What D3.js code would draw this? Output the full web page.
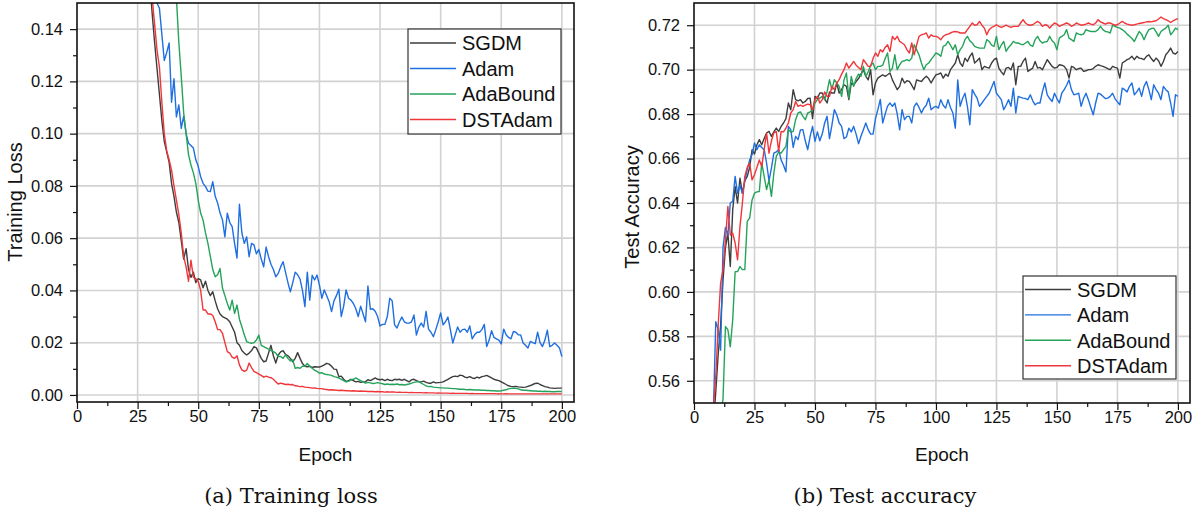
<!DOCTYPE html>
<html>
<head>
<meta charset="utf-8">
<script src="https://cdn.jsdelivr.net/npm/d3@7"></script>
<style>
  body { margin: 0; background: #fff; }
  svg { display: block; }
</style>
</head>
<body>
<div id="chart"></div>
<script>
// legend names and line colours
var seriesNames = ['SGDM', 'Adam', 'AdaBound', 'DSTAdam'];
var seriesColors = ['#3d3d3d', '#1f6fe0', '#25a35a', '#f0363a'];

// tick values
var epochTicks = [0, 25, 50, 75, 100, 125, 150, 175, 200];
var epochMinorTicks = [12.5, 37.5, 62.5, 87.5, 112.5, 137.5, 162.5, 187.5];
var lossTicks = [0, 0.02, 0.04, 0.06, 0.08, 0.10, 0.12, 0.14];
var lossMinorTicks = [0.01, 0.03, 0.05, 0.07, 0.09, 0.11, 0.13];
var accTicks = [0.56, 0.58, 0.60, 0.62, 0.64, 0.66, 0.68, 0.70, 0.72];
var accMinorTicks = [0.57, 0.59, 0.61, 0.63, 0.65, 0.67, 0.69, 0.71];

// training loss, epochs 1..200
var sgdmLoss = [
  1.55,1.18,1.02,0.92,0.85,0.79,0.74,0.70,0.66,0.62,
  0.59,0.56,0.53,0.50,0.47,0.44,0.41,0.38,0.35,0.33,
  0.30,0.28,0.26,0.24,0.22,0.21,0.195,0.18,0.17,0.158,
  0.146,0.135,0.125,0.115,0.105,0.097,0.093,0.089,0.081,0.076,
  0.070,0.066,0.059,0.052,0.056,0.048,0.045,0.047,0.043,0.0445,
  0.044,0.041,0.0435,0.040,0.038,0.0395,0.036,0.033,0.031,0.030,
  0.0295,0.029,0.028,0.026,0.024,0.020,0.019,0.017,0.016,0.0153,
  0.016,0.017,0.0185,0.018,0.016,0.014,0.0127,0.013,0.016,0.019,
  0.015,0.0122,0.0153,0.0165,0.017,0.0155,0.015,0.014,0.0127,0.014,
  0.0162,0.014,0.012,0.011,0.0108,0.011,0.0105,0.0108,0.0107,0.0107,
  0.011,0.0115,0.0121,0.0118,0.011,0.0099,0.0098,0.007,0.0072,0.006,
  0.0051,0.0055,0.006,0.0055,0.005,0.0052,0.0048,0.005,0.0051,0.0058,
  0.0055,0.006,0.0065,0.006,0.0058,0.006,0.0055,0.006,0.0056,0.0055,
  0.006,0.0058,0.006,0.0056,0.006,0.0055,0.005,0.0058,0.006,0.0055,
  0.0051,0.005,0.0053,0.0048,0.0045,0.0045,0.005,0.0046,0.0047,0.0048,
  0.005,0.0055,0.006,0.0065,0.007,0.0072,0.007,0.0076,0.0074,0.0068,
  0.0066,0.007,0.0065,0.0063,0.0068,0.0065,0.007,0.0072,0.0075,0.007,
  0.0065,0.006,0.0057,0.0055,0.005,0.0045,0.004,0.0035,0.0033,0.0032,
  0.0033,0.0031,0.003,0.0029,0.003,0.0033,0.0036,0.004,0.0044,0.0045,
  0.004,0.0036,0.0032,0.003,0.0027,0.0026,0.0025,0.0026,0.0026,0.0026
];
var adamLoss = [
  2.1,1.5,1.25,1.1,1.0,0.92,0.86,0.80,0.75,0.70,
  0.66,0.62,0.58,0.55,0.52,0.49,0.46,0.43,0.41,0.38,
  0.36,0.34,0.32,0.30,0.28,0.26,0.24,0.22,0.205,0.19,
  0.175,0.162,0.150,0.148,0.138,0.128,0.131,0.1347,0.112,0.121,
  0.1064,0.111,0.102,0.1067,0.100,0.0963,0.0955,0.0945,0.090,0.0875,
  0.0835,0.081,0.0797,0.078,0.0778,0.0816,0.076,0.0735,0.0696,0.067,
  0.0605,0.0696,0.066,0.0644,0.058,0.0524,0.073,0.062,0.058,0.0605,
  0.0529,0.058,0.0574,0.054,0.0557,0.052,0.049,0.0566,0.053,0.050,
  0.048,0.0452,0.0465,0.049,0.051,0.047,0.043,0.0395,0.043,0.047,
  0.046,0.0443,0.040,0.0338,0.047,0.0363,0.0458,0.044,0.0459,0.042,
  0.037,0.0402,0.038,0.0357,0.0319,0.036,0.038,0.0405,0.030,0.034,
  0.0402,0.037,0.0363,0.035,0.033,0.030,0.034,0.031,0.028,0.0417,
  0.0328,0.033,0.032,0.030,0.0264,0.027,0.027,0.030,0.037,0.036,
  0.0268,0.0256,0.028,0.0298,0.028,0.0275,0.0275,0.028,0.0306,0.0229,
  0.026,0.0275,0.026,0.032,0.0252,0.024,0.0223,0.025,0.028,0.0314,
  0.0268,0.028,0.0298,0.025,0.0199,0.023,0.026,0.024,0.025,0.0252,
  0.024,0.0264,0.0215,0.023,0.024,0.024,0.025,0.027,0.0185,0.021,
  0.0246,0.022,0.0215,0.021,0.0195,0.0252,0.023,0.022,0.0215,0.0243,
  0.024,0.023,0.023,0.0199,0.019,0.018,0.0205,0.020,0.0196,0.024,
  0.020,0.0185,0.021,0.0248,0.0185,0.019,0.0199,0.019,0.018,0.0147
];
var adaboundLoss = [
  1.9,1.45,1.25,1.12,1.03,0.96,0.90,0.85,0.80,0.76,
  0.72,0.69,0.66,0.63,0.60,0.57,0.55,0.52,0.50,0.48,
  0.46,0.44,0.42,0.40,0.38,0.36,0.345,0.33,0.315,0.30,
  0.285,0.27,0.26,0.245,0.235,0.22,0.21,0.195,0.18,0.165,
  0.152,0.135,0.122,0.108,0.100,0.092,0.088,0.085,0.081,0.0746,
  0.0696,0.0669,0.062,0.058,0.053,0.048,0.0452,0.046,0.0484,0.0409,
  0.038,0.035,0.0325,0.0363,0.0312,0.0344,0.029,0.0261,0.023,0.0204,
  0.020,0.0198,0.020,0.021,0.0229,0.019,0.0185,0.018,0.0175,0.017,
  0.0166,0.016,0.0147,0.0147,0.014,0.0153,0.014,0.013,0.0134,0.0102,
  0.0105,0.0102,0.011,0.011,0.012,0.011,0.0102,0.0095,0.009,0.0083,
  0.0085,0.008,0.0078,0.0077,0.0075,0.007,0.0068,0.0065,0.006,0.0055,
  0.005,0.0052,0.0058,0.006,0.0065,0.006,0.0055,0.005,0.0045,0.0048,
  0.0046,0.0044,0.0045,0.0047,0.0045,0.0043,0.004,0.0042,0.004,0.0041,
  0.0040,0.0042,0.0039,0.004,0.0038,0.004,0.0042,0.0045,0.0048,0.005,
  0.0051,0.0045,0.004,0.0035,0.0032,0.0033,0.003,0.0029,0.0028,0.0027,
  0.0027,0.0026,0.0026,0.0025,0.0024,0.0024,0.0023,0.0022,0.0022,0.0021,
  0.002,0.0021,0.002,0.0019,0.0019,0.0019,0.0018,0.0018,0.0017,0.0017,
  0.0016,0.0016,0.0015,0.0015,0.0016,0.0018,0.002,0.0023,0.0025,0.0026,
  0.0025,0.0023,0.002,0.0018,0.0018,0.0017,0.0016,0.0015,0.0015,0.0014,
  0.0014,0.0013,0.0014,0.0013,0.0013,0.0012,0.0012,0.0013,0.0013,0.0013
];
var dstadamLoss = [
  1.6,1.2,1.03,0.93,0.86,0.80,0.75,0.70,0.66,0.62,
  0.59,0.56,0.53,0.50,0.47,0.44,0.41,0.38,0.36,0.33,
  0.31,0.29,0.27,0.25,0.23,0.215,0.2,0.185,0.172,0.162,
  0.152,0.142,0.132,0.1255,0.112,0.100,0.0935,0.090,0.086,0.080,
  0.0746,0.069,0.062,0.053,0.049,0.0435,0.0516,0.045,0.0445,0.0435,
  0.040,0.0325,0.0325,0.031,0.031,0.0304,0.028,0.025,0.025,0.0236,
  0.020,0.0166,0.016,0.0145,0.014,0.015,0.0115,0.0096,0.009,0.0095,
  0.0122,0.0105,0.009,0.0085,0.008,0.0075,0.0068,0.0072,0.0068,0.0066,
  0.006,0.005,0.0042,0.0045,0.0043,0.004,0.0041,0.0039,0.004,0.0035,
  0.0034,0.0032,0.0033,0.003,0.0029,0.0028,0.0026,0.0027,0.0025,0.0024,
  0.0024,0.0022,0.0021,0.0019,0.002,0.0019,0.0018,0.0017,0.0018,0.0017,
  0.0016,0.0016,0.0015,0.0016,0.0015,0.0014,0.0015,0.0014,0.0014,0.0013,
  0.0013,0.0013,0.0012,0.0013,0.0012,0.0012,0.0011,0.0012,0.0011,0.0011,
  0.0011,0.001,0.0011,0.001,0.001,0.001,0.0009,0.001,0.0009,0.0009,
  0.0009,0.0009,0.0008,0.0009,0.0008,0.0008,0.0008,0.0007,0.0008,0.0007,
  0.0007,0.0007,0.0007,0.0006,0.0007,0.0006,0.0006,0.0006,0.0006,0.0006,
  0.0006,0.0005,0.0006,0.0005,0.0005,0.0005,0.0005,0.0005,0.0005,0.0005,
  0.0005,0.0005,0.0004,0.0005,0.0004,0.0004,0.0005,0.0004,0.0004,0.0004,
  0.0004,0.0004,0.0004,0.0004,0.0004,0.0004,0.0004,0.0004,0.0004,0.0004,
  0.0004,0.0004,0.0004,0.0004,0.0004,0.0004,0.0004,0.0004,0.0004,0.0004
];

// test accuracy, epochs 1..200
var sgdmAcc = [
  0.30,0.38,0.43,0.46,0.49,0.51,0.525,0.54,0.555,0.572,
  0.585,0.6054,0.620,0.6264,0.6114,0.637,0.6474,0.640,0.6512,0.6444,
  0.650,0.652,0.656,0.664,0.662,0.6662,0.6685,0.6662,0.669,0.6715,
  0.6722,0.670,0.672,0.6737,0.6722,0.6745,0.676,0.678,0.685,0.682,
  0.691,0.6865,0.686,0.6865,0.685,0.6857,0.687,0.6872,0.678,0.688,
  0.687,0.6895,0.6895,0.687,0.685,0.690,0.6895,0.6895,0.694,0.6895,
  0.691,0.6932,0.6925,0.6865,0.694,0.693,0.6947,0.696,0.698,0.700,
  0.697,0.6954,0.700,0.6887,0.694,0.6962,0.697,0.6977,0.697,0.6977,
  0.6985,0.6954,0.6932,0.691,0.6925,0.6962,0.694,0.695,0.6947,0.693,
  0.691,0.6954,0.695,0.6947,0.696,0.697,0.696,0.694,0.696,0.6977,
  0.698,0.6985,0.6962,0.698,0.697,0.700,0.7015,0.703,0.7067,0.703,
  0.7015,0.7052,0.7037,0.706,0.7075,0.703,0.704,0.7052,0.700,0.7015,
  0.701,0.7007,0.703,0.7045,0.7052,0.7007,0.699,0.6977,0.7007,0.701,
  0.700,0.703,0.6932,0.7015,0.7015,0.7037,0.7052,0.6992,0.700,0.7007,
  0.7037,0.7007,0.701,0.700,0.7022,0.7045,0.703,0.7015,0.7007,0.701,
  0.7022,0.702,0.7015,0.700,0.6962,0.7015,0.701,0.700,0.7005,0.7007,
  0.6992,0.6995,0.700,0.700,0.7005,0.7015,0.7022,0.7018,0.7015,0.701,
  0.7005,0.700,0.7015,0.701,0.7007,0.6962,0.703,0.7037,0.7045,0.705,
  0.706,0.7045,0.706,0.7052,0.705,0.7045,0.706,0.7067,0.705,0.7037,
  0.7052,0.704,0.7015,0.7037,0.7067,0.708,0.7097,0.7075,0.707,0.7082
];
var adamAcc = [
  0.28,0.36,0.42,0.46,0.49,0.51,0.53,0.545,0.5866,0.583,
  0.5738,0.620,0.629,0.6256,0.640,0.6407,0.652,0.6444,0.648,0.6444,
  0.650,0.655,0.6594,0.6617,0.667,0.664,0.6662,0.665,0.664,0.658,
  0.650,0.6557,0.6624,0.663,0.664,0.6594,0.657,0.654,0.6745,0.673,
  0.665,0.670,0.6685,0.6729,0.673,0.668,0.664,0.670,0.6745,0.6677,
  0.672,0.668,0.671,0.676,0.679,0.669,0.675,0.682,0.6797,0.676,
  0.6745,0.669,0.6697,0.6737,0.672,0.6745,0.671,0.6667,0.670,0.673,
  0.676,0.673,0.671,0.671,0.678,0.682,0.6866,0.676,0.680,0.6836,
  0.685,0.6835,0.685,0.680,0.6729,0.682,0.6775,0.679,0.679,0.676,
  0.6835,0.685,0.683,0.6805,0.6827,0.684,0.6872,0.682,0.683,0.6835,
  0.6827,0.6865,0.684,0.6827,0.6865,0.683,0.6805,0.6737,0.6954,0.6835,
  0.687,0.6894,0.6835,0.6752,0.691,0.689,0.6872,0.6835,0.685,0.6865,
  0.688,0.6894,0.692,0.6947,0.6894,0.688,0.6865,0.682,0.684,0.6865,
  0.6835,0.6917,0.6805,0.688,0.6875,0.6872,0.687,0.6865,0.6887,0.686,
  0.6842,0.685,0.685,0.690,0.694,0.6887,0.687,0.6857,0.6894,0.687,
  0.685,0.6894,0.691,0.693,0.6954,0.691,0.6887,0.689,0.6894,0.6835,
  0.687,0.6894,0.6865,0.683,0.6797,0.685,0.6894,0.689,0.688,0.687,
  0.6872,0.688,0.6894,0.687,0.6855,0.6842,0.6917,0.691,0.690,0.6925,
  0.694,0.6887,0.690,0.6917,0.688,0.6925,0.6947,0.691,0.6865,0.6932,
  0.691,0.6894,0.6865,0.6925,0.691,0.690,0.685,0.679,0.6887,0.688
];
var adaboundAcc = [
  0.25,0.33,0.39,0.43,0.46,0.48,0.50,0.515,0.525,0.535,
  0.543,0.552,0.5844,0.583,0.5753,0.5874,0.6091,0.6091,0.6114,0.610,
  0.610,0.6317,0.6332,0.6414,0.6444,0.645,0.6452,0.658,0.652,0.646,
  0.6504,0.643,0.6534,0.661,0.663,0.6624,0.664,0.6655,0.673,0.672,
  0.6722,0.6775,0.6805,0.681,0.679,0.6775,0.6805,0.681,0.682,0.685,
  0.6865,0.6872,0.688,0.6865,0.690,0.6955,0.691,0.6955,0.694,0.6925,
  0.688,0.6954,0.6985,0.6872,0.697,0.6925,0.696,0.698,0.697,0.7015,
  0.697,0.699,0.702,0.703,0.700,0.7015,0.7015,0.702,0.705,0.7075,
  0.6992,0.7007,0.7067,0.700,0.7022,0.7037,0.704,0.7045,0.704,0.7052,
  0.7112,0.709,0.7067,0.703,0.700,0.7022,0.703,0.7045,0.706,0.7075,
  0.707,0.706,0.7105,0.711,0.7127,0.711,0.709,0.7112,0.7067,0.709,
  0.7105,0.7135,0.715,0.713,0.712,0.7105,0.710,0.7097,0.7097,0.7097,
  0.7135,0.7127,0.711,0.7105,0.715,0.709,0.711,0.7127,0.7082,0.710,
  0.7112,0.7127,0.712,0.712,0.7115,0.7112,0.712,0.7127,0.711,0.7105,
  0.7135,0.715,0.713,0.712,0.7125,0.7127,0.715,0.713,0.712,0.709,
  0.7142,0.715,0.7157,0.718,0.7142,0.7135,0.7127,0.7165,0.716,0.7157,
  0.716,0.718,0.7175,0.7172,0.7172,0.7172,0.718,0.7195,0.718,0.7172,
  0.717,0.7165,0.720,0.7195,0.719,0.7187,0.718,0.7172,0.716,0.715,
  0.714,0.7127,0.715,0.7172,0.716,0.7135,0.716,0.718,0.7185,0.7187,
  0.717,0.715,0.7172,0.718,0.7187,0.720,0.7157,0.717,0.7187,0.718
];
var dstadamAcc = [
  0.29,0.37,0.42,0.46,0.49,0.51,0.53,0.548,0.562,0.585,
  0.604,0.610,0.6234,0.6385,0.6256,0.6264,0.622,0.6144,0.6294,0.640,
  0.652,0.656,0.658,0.6504,0.6527,0.656,0.6594,0.6564,0.664,0.6715,
  0.6624,0.668,0.6715,0.6722,0.6632,0.6722,0.672,0.6737,0.676,0.6805,
  0.682,0.6857,0.6835,0.684,0.6835,0.684,0.6845,0.6842,0.682,0.6865,
  0.688,0.685,0.6865,0.690,0.688,0.688,0.6925,0.691,0.694,0.6955,
  0.698,0.700,0.703,0.7007,0.7022,0.7037,0.702,0.701,0.700,0.7045,
  0.703,0.7015,0.7015,0.705,0.7075,0.706,0.709,0.708,0.710,0.7112,
  0.7082,0.715,0.7135,0.715,0.7127,0.712,0.7112,0.709,0.7075,0.712,
  0.7067,0.711,0.715,0.7157,0.716,0.7165,0.7142,0.7157,0.715,0.715,
  0.7145,0.7135,0.715,0.7157,0.716,0.7165,0.717,0.7172,0.717,0.7165,
  0.7165,0.7165,0.718,0.7195,0.721,0.720,0.7202,0.7217,0.720,0.7187,
  0.7157,0.718,0.719,0.7195,0.7202,0.7195,0.719,0.7195,0.720,0.7195,
  0.719,0.7195,0.7195,0.7195,0.721,0.7225,0.721,0.7202,0.720,0.7202,
  0.721,0.7217,0.721,0.7195,0.7202,0.720,0.7187,0.720,0.721,0.7205,
  0.7195,0.720,0.7205,0.721,0.7205,0.7195,0.720,0.721,0.7205,0.720,
  0.7202,0.7205,0.721,0.7205,0.7202,0.721,0.7225,0.7215,0.721,0.7205,
  0.721,0.721,0.7205,0.720,0.7202,0.721,0.7217,0.721,0.7205,0.7202,
  0.720,0.7202,0.7205,0.7208,0.721,0.7212,0.7215,0.7217,0.7215,0.7218,
  0.722,0.7228,0.7237,0.723,0.7225,0.722,0.7212,0.722,0.7225,0.723
];

// -----------------------------------------------

var svgWidth = 1203;
var svgHeight = 515;
var sansFont = '"Liberation Sans", Arial, Helvetica, sans-serif';
var serifFont = '"DejaVu Serif", "Liberation Serif", serif';

var svg = d3.select('#chart')
    .append('svg')
    .attr('width', svgWidth)
    .attr('height', svgHeight);

var defs = svg.append('defs');

// draws one panel: grid, curves, frame, axes, labels, legend
function drawPanel(p) {
    var top = 3;
    var x = d3.scaleLinear().domain([0, 205]).range([p.left, p.right]);
    var y = d3.scaleLinear().domain(p.yDomain).range([p.bottom, top]);
    var g = svg.append('g');

    // grid lines
    g.append('g')
        .selectAll('line')
        .data(epochTicks.slice(1))
        .enter()
        .append('line')
        .attr('x1', d => x(d)).attr('x2', d => x(d))
        .attr('y1', top).attr('y2', p.bottom)
        .attr('stroke', '#d2d2d2')
        .attr('stroke-width', 1.6);
    g.append('g')
        .selectAll('line')
        .data(p.yTicks)
        .enter()
        .append('line')
        .attr('x1', p.left).attr('x2', p.right)
        .attr('y1', d => y(d)).attr('y2', d => y(d))
        .attr('stroke', '#d2d2d2')
        .attr('stroke-width', 1.6);

    // clip curves to plot area
    defs.append('clipPath')
        .attr('id', p.id + '-clip')
        .append('rect')
        .attr('x', p.left).attr('y', top)
        .attr('width', p.right - p.left).attr('height', p.bottom - top);

    var line = d3.line()
        .x((d, i) => x(i + 1))
        .y(d => y(d));

    g.append('g')
        .attr('clip-path', `url(#${p.id}-clip)`)
        .selectAll('path')
        .data(p.series)
        .enter()
        .append('path')
        .attr('d', d => line(d))
        .attr('fill', 'none')
        .attr('stroke', (d, i) => seriesColors[i])
        .attr('stroke-width', 1.4)
        .attr('stroke-linejoin', 'round');

    // frame
    g.append('rect')
        .attr('x', p.left).attr('y', top)
        .attr('width', p.right - p.left).attr('height', p.bottom - top)
        .attr('fill', 'none')
        .attr('stroke', '#111')
        .attr('stroke-width', 1.6);

    // bottom axis, major + minor
    g.append('g')
        .attr('transform', `translate(0, ${p.bottom})`)
        .call(d3.axisBottom(x).tickValues(epochTicks).tickFormat(d3.format('d'))
            .tickSize(7).tickPadding(1).tickSizeOuter(0));
    g.append('g')
        .attr('transform', `translate(0, ${p.bottom})`)
        .call(d3.axisBottom(x).tickValues(epochMinorTicks).tickFormat('')
            .tickSize(4).tickSizeOuter(0));

    // left axis, major + minor
    g.append('g')
        .attr('transform', `translate(${p.left}, 0)`)
        .call(d3.axisLeft(y).tickValues(p.yTicks).tickFormat(d3.format('.2f'))
            .tickSize(7).tickPadding(7).tickSizeOuter(0));
    g.append('g')
        .attr('transform', `translate(${p.left}, 0)`)
        .call(d3.axisLeft(y).tickValues(p.yMinorTicks).tickFormat('')
            .tickSize(4).tickSizeOuter(0));

    g.selectAll('.domain').remove();
    g.selectAll('.tick line').attr('stroke', '#111').attr('stroke-width', 1.2);
    g.selectAll('.tick text')
        .attr('fill', '#111')
        .style('font-family', sansFont)
        .style('font-size', '16.5px');

    // axis titles
    g.append('text')
        .attr('x', (p.left + p.right) / 2)
        .attr('y', 461)
        .attr('text-anchor', 'middle')
        .style('font-family', sansFont)
        .style('font-size', '19px')
        .attr('fill', '#111')
        .text('Epoch');

    g.append('text')
        .attr('transform', `translate(${p.yTitleX}, ${p.yTitleY}) rotate(-90)`)
        .attr('text-anchor', 'middle')
        .style('font-family', sansFont)
        .style('font-size', '20px')
        .attr('fill', '#111')
        .text(p.yTitle);

    // caption under panel
    g.append('text')
        .attr('x', p.captionX)
        .attr('y', 503)
        .attr('text-anchor', 'middle')
        .style('font-family', serifFont)
        .style('font-size', '21px')
        .attr('fill', '#111')
        .text(p.caption);

    // legend
    var lg = p.legend;
    var legend = g.append('g');
    legend.append('rect')
        .attr('x', lg.x).attr('y', lg.y)
        .attr('width', lg.w).attr('height', lg.h)
        .attr('fill', '#fff')
        .attr('stroke', '#333')
        .attr('stroke-width', 1.2);
    seriesNames.forEach((name, i) => {
        var ry = lg.rowY + i * lg.rowStep;
        legend.append('line')
            .attr('x1', lg.x + 2).attr('x2', lg.x + 48)
            .attr('y1', ry).attr('y2', ry)
            .attr('stroke', seriesColors[i])
            .attr('stroke-width', 1.4);
        legend.append('text')
            .attr('x', lg.x + 54)
            .attr('y', ry)
            .attr('dy', '0.36em')
            .style('font-family', sansFont)
            .style('font-size', '20px')
            .attr('fill', '#111')
            .text(name);
    });
}

// (a) training loss
drawPanel({
    id: 'loss',
    left: 77, right: 574, bottom: 402,
    yDomain: [-0.0027, 0.15],
    yTicks: lossTicks,
    yMinorTicks: lossMinorTicks,
    series: [sgdmLoss, adamLoss, adaboundLoss, dstadamLoss],
    yTitle: 'Training Loss', yTitleX: 22, yTitleY: 202,
    caption: '(a)  Training loss', captionX: 291,
    legend: { x: 408, y: 29, w: 153, h: 105, rowY: 43, rowStep: 25.5 }
});

// (b) test accuracy
drawPanel({
    id: 'acc',
    left: 694, right: 1190, bottom: 403,
    yDomain: [0.55, 0.73],
    yTicks: accTicks,
    yMinorTicks: accMinorTicks,
    series: [sgdmAcc, adamAcc, adaboundAcc, dstadamAcc],
    yTitle: 'Test Accuracy', yTitleX: 639, yTitleY: 207,
    caption: '(b)  Test accuracy', captionX: 885,
    legend: { x: 1023, y: 276, w: 153, h: 103, rowY: 289.5, rowStep: 25.4 }
});
</script>
</body>
</html>
